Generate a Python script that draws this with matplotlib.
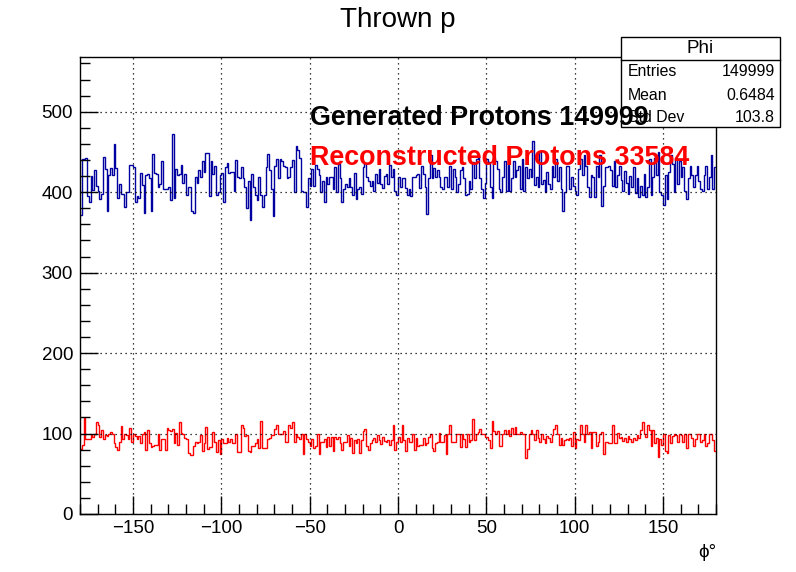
import numpy as np
import matplotlib
matplotlib.use("Agg")
import matplotlib.pyplot as plt
import matplotlib.patches as patches
from matplotlib.ticker import MultipleLocator

plt.rcParams['font.family'] = ['Liberation Sans', 'DejaVu Sans']

# phi bins: 360 bins of 1 degree from -180 to 180
PHI_MIN, PHI_MAX = -180, 180

# thrown (generated) protons per bin
blue_counts = [
    372, 441, 441, 443, 395, 388, 420, 403, 428, 408,
    402, 391, 398, 444, 429, 377, 421, 430, 421, 460,
    430, 393, 410, 398, 398, 381, 400, 400, 434, 434,
    431, 388, 395, 393, 424, 409, 374, 421, 423, 417,
    377, 448, 424, 422, 407, 410, 439, 404, 404, 404,
    406, 390, 472, 393, 429, 421, 423, 434, 412, 423,
    397, 406, 406, 376, 374, 419, 412, 428, 419, 439,
    425, 449, 449, 395, 439, 423, 433, 396, 400, 421,
    424, 388, 431, 436, 424,
    425, 425, 402, 440, 419, 418, 431, 417, 406, 380,
    414, 365, 423, 406, 397, 390, 419, 396, 381, 396,
    431, 448, 427, 404, 371, 433, 441, 417, 441, 439,
    433, 431, 417, 419, 431, 440, 400, 457, 452, 443,
    402, 400, 400, 381, 417, 408, 429, 408, 434, 429,
    421, 400, 414, 388, 419, 410, 419, 419, 404, 431,
    400, 435, 417, 388, 404, 410, 406, 417, 406, 396,
    424, 392, 404, 406, 398, 431, 436, 419, 414, 408,
    414, 402, 423, 412, 429, 410, 405, 420,
    423, 410, 434, 419, 429, 402, 397, 419, 406, 417,
    417, 405, 396, 404, 395, 419, 419, 421, 422, 405,
    433, 423, 406, 373, 417, 446, 417, 430, 419, 427,
    419, 406, 404, 419, 419, 406, 433, 404, 429, 419,
    400, 410, 427, 431, 417, 396, 398, 414, 404, 437,
    417, 441, 446, 417, 404, 393, 412, 441, 437, 406,
    393, 442, 439, 429, 404, 400, 419, 439, 402, 434,
    402, 417, 439, 419, 427, 433, 404, 441, 402, 431,
    417, 429, 419, 464, 409, 419, 406, 450, 410, 415,
    400, 425, 410,
    404, 433, 419, 441, 414, 431, 404, 376, 400, 433,
    433, 404, 419, 408, 402, 396, 429, 441, 421, 446,
    433, 406, 394, 421, 419, 394, 433, 419, 446, 383,
    408, 431, 431, 433, 427, 408, 439, 406, 421, 433,
    415, 402, 426, 411, 398, 420, 407, 431, 399, 417,
    394, 408, 396, 423, 394, 406, 441, 396, 419, 443,
    421, 450, 400, 396, 384, 421, 392, 425, 446, 435,
    400, 443, 410, 439, 419, 431, 402, 392, 417, 433,
    421, 406, 421, 433, 414, 404, 402, 421, 433, 404,
    419, 446, 404, 431,
]

# reconstructed protons per bin
red_counts = [
    81, 86, 119, 93, 93, 93, 98, 96, 99, 114,
    110, 96, 104, 93, 98, 97, 99, 102, 100, 88,
    83, 80, 89, 109, 93, 99, 98, 93, 107, 89,
    100, 97, 93, 97, 88, 100, 102, 80, 105, 88,
    83, 84, 86, 86, 100, 80, 93, 93, 80, 107,
    105, 103, 106, 88, 101, 86, 114, 101, 100, 95,
    93, 76, 73, 73, 84, 90, 88, 89, 98, 78,
    88, 108, 81, 83, 83, 102, 90, 77, 92, 74,
    93, 88, 88, 95, 90,
    93, 88, 88, 99, 77, 77, 110, 107, 97, 98,
    78, 77, 85, 85, 88, 93, 82, 115, 82, 82,
    82, 93, 95, 98, 98, 106, 110, 100, 100, 99,
    103, 89, 89, 110, 107, 114, 89, 99, 96, 93,
    99, 74, 100, 93, 90, 84, 93, 82, 85, 100,
    74, 90, 90, 93, 83, 96, 85, 96, 78, 96,
    93, 96, 88, 80, 90, 89, 98, 85, 95, 76,
    92, 88, 93, 76, 92, 103, 106, 85, 80, 88,
    92, 95, 90, 98, 92, 87, 96, 91,
    90, 92, 86, 92, 111, 80, 90, 96, 90, 110,
    92, 78, 95, 89, 89, 100, 80, 95, 84, 86,
    86, 95, 86, 88, 96, 99, 82, 78, 88, 89,
    101, 90, 89, 98, 74, 100, 111, 89, 89, 90,
    100, 100, 83, 100, 93, 83, 99, 89, 92, 118,
    92, 99, 102, 106, 99, 99, 96, 96, 92, 82,
    115, 103, 100, 103, 85, 85, 100, 104, 100, 104,
    97, 107, 99, 108, 100, 100, 102, 100, 100, 70,
    81, 99, 104, 100, 92, 104, 95, 90, 99, 93,
    88, 97, 94,
    90, 98, 106, 111, 100, 86, 95, 86, 92, 93,
    92, 95, 85, 102, 82, 93, 92, 110, 99, 90,
    110, 100, 102, 82, 102, 102, 84, 90, 100, 102,
    75, 89, 89, 88, 88, 110, 88, 88, 101, 95,
    96, 91, 94, 89, 97, 93, 90, 95, 92, 98, 94,
    104, 114, 99, 96, 110, 104, 85, 105, 88, 95,
    71, 93, 86, 100, 78, 76, 98, 88, 97, 100,
    98, 90, 100, 98, 89, 99, 82, 100, 99, 95,
    85, 93, 100, 99, 90, 92, 100, 84, 88, 99,
    99, 92, 78,
]

stat_labels = ["Entries", "Mean", "Std Dev"]
stat_values = ["149999", "0.6484", "103.8"]
n_generated = 149999
n_reconstructed = 33584

fig = plt.figure(figsize=(7.96, 5.72), dpi=100)
ax = fig.add_axes([80/796, 58/572, 636/796, 457/572])

edges_b = np.linspace(PHI_MIN, PHI_MAX, len(blue_counts) + 1)
edges_r = np.linspace(PHI_MIN, PHI_MAX, len(red_counts) + 1)
ax.stairs(blue_counts, edges_b, color='#0000a0', lw=1.0, baseline=None)
ax.stairs(red_counts, edges_r, color='#ff0000', lw=1.0, baseline=None)

ax.set_xlim(PHI_MIN, PHI_MAX)
ax.set_ylim(0, 568)

# ROOT-like ticks
ax.xaxis.set_major_locator(MultipleLocator(50))
ax.xaxis.set_minor_locator(MultipleLocator(10))
ax.yaxis.set_major_locator(MultipleLocator(100))
ax.yaxis.set_minor_locator(MultipleLocator(20))
ax.tick_params(which='both', direction='in', top=False, right=False,
               width=1.0, labelsize=13.5)
ax.tick_params(which='major', length=13)
ax.tick_params(which='minor', length=7)
ax.tick_params(axis='x', pad=4)
ax.tick_params(axis='y', pad=5)
ax.grid(True, which='major', color='black', linestyle=(0, (1, 3)), lw=0.9)
for s in ax.spines.values():
    s.set_linewidth(1.0)

ax.text(1.0, -0.065, "\u03d5\u00b0", transform=ax.transAxes, ha='right', va='top',
        fontsize=13.5)

fig.text(0.5, 0.965, "Thrown p", ha='center', va='center', fontsize=20)

ax.text(-50, 483, f"Generated Protons {n_generated}", fontsize=19.4,
        fontweight='bold', color='black', zorder=7)
ax.text(-50, 434, f"Reconstructed Protons {n_reconstructed}", fontsize=19.4,
        fontweight='bold', color='#ff0000', zorder=7)

# stats box
bx0, bx1 = 621/796, 780/796
by0, by1 = 1 - 127/572, 1 - 37/572
box = patches.Rectangle((bx0, by0), bx1 - bx0, by1 - by0, transform=fig.transFigure,
                        facecolor='white', edgecolor='black', lw=1.0,
                        clip_on=False, zorder=6)
ax.add_patch(box)
ax.plot([bx0, bx1], [1 - 60/572] * 2, transform=fig.transFigure, color='black',
        lw=1.0, clip_on=False, zorder=6)
ax.text((bx0 + bx1) / 2, 1 - 48.5/572, "Phi", transform=fig.transFigure,
        ha='center', va='center', fontsize=13.5, zorder=6)
for i, (lab, val) in enumerate(zip(stat_labels, stat_values)):
    yy = 1 - (72 + 23 * i) / 572
    ax.text(628/796, yy, lab, transform=fig.transFigure, ha='left', va='center',
            fontsize=11.4, zorder=6)
    ax.text(775/796, yy, val, transform=fig.transFigure, ha='right', va='center',
            fontsize=11.4, zorder=6)

fig.savefig("out.png", dpi=100)
